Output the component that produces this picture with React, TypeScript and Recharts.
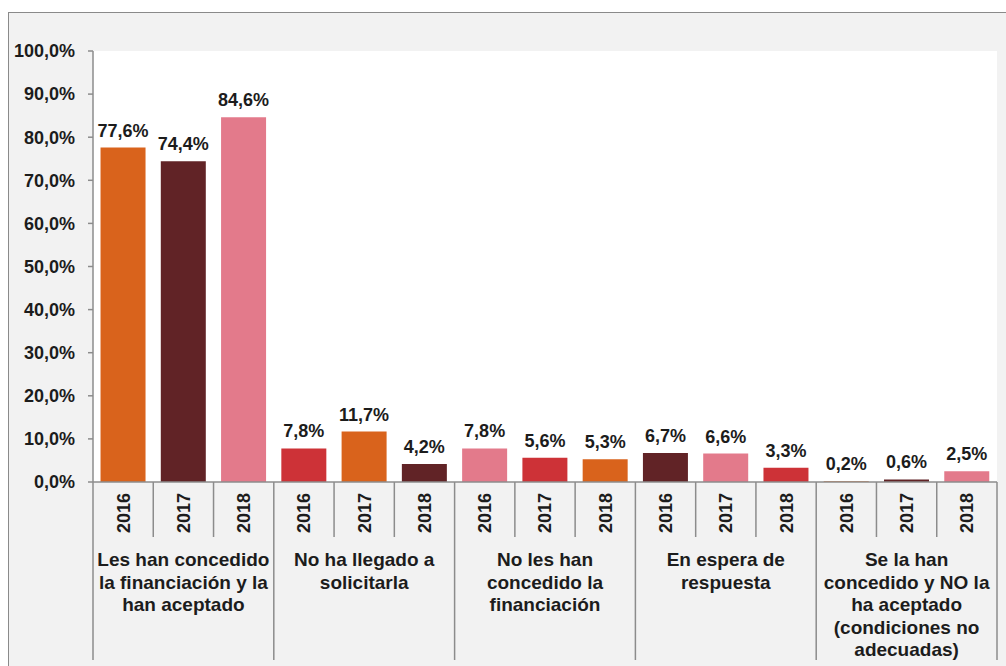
import { BarChart, Bar, XAxis, YAxis, CartesianGrid, Cell, LabelList } from 'recharts'

// one entry per group, lines as they wrap in the original
const CATEGORIES: string[][] = [
  ['Les han concedido', 'la financiación y la', 'han aceptado'],
  ['No ha llegado a', 'solicitarla'],
  ['No les han', 'concedido la', 'financiación'],
  ['En espera de', 'respuesta'],
  ['Se la han', 'concedido y NO la', 'ha aceptado', '(condiciones no', 'adecuadas)']
]

const YEARS = ['2016', '2017', '2018']

const CONCEDIDA_ACEPTADA = [77.6, 74.4, 84.6]
const NO_SOLICITADA = [7.8, 11.7, 4.2]
const NO_CONCEDIDA = [7.8, 5.6, 5.3]
const EN_ESPERA = [6.7, 6.6, 3.3]
const CONCEDIDA_NO_ACEPTADA = [0.2, 0.6, 2.5]

const SERIES = [CONCEDIDA_ACEPTADA, NO_SOLICITADA, NO_CONCEDIDA, EN_ESPERA, CONCEDIDA_NO_ACEPTADA]

const Y_TICKS = [0, 10, 20, 30, 40, 50, 60, 70, 80, 90, 100]

const COLORS = ['#D9631C', '#612326', '#E37A8B', '#CD3237']

const FONT = '"Liberation Sans", Arial, sans-serif'
const TEXT = '#1c1c1c'
const LINE = '#8c8c8c'

const rows = SERIES.flatMap((vals, g) =>
  vals.map((value, j) => ({ key: `${g}-${YEARS[j]}`, year: YEARS[j], group: g, value }))
)

const pct = (v: number) => `${v.toFixed(1).replace('.', ',')}%`

const YearTick = (props: any) => {
  const { x, y, payload, index } = props
  const half = payload && payload.offset ? payload.offset : 30
  const row = rows[index]
  if (!row) return null
  const pos = index % 3
  const items = []
  items.push(
    <line key="l" x1={x - half} x2={x - half} y1={y} y2={pos === 0 ? y + 178 : y + 55} stroke={LINE} strokeWidth={1.5} />
  )
  if (index === rows.length - 1) {
    items.push(<line key="r" x1={x + half} x2={x + half} y1={y} y2={y + 178} stroke={LINE} strokeWidth={1.5} />)
  }
  items.push(
    <text
      key="t"
      x={0}
      y={0}
      transform={`translate(${x},${y + 31}) rotate(-90)`}
      textAnchor="middle"
      dy="0.36em"
      fontFamily={FONT}
      fontWeight="bold"
      fontSize={18}
      fill={TEXT}
    >
      {row.year}
    </text>
  )
  if (pos === 1) {
    items.push(
      <text key="c" x={x} y={y + 84} textAnchor="middle" fontFamily={FONT} fontWeight="bold" fontSize={19} fill={TEXT}>
        {CATEGORIES[row.group].map((ln, k) => (
          <tspan key={k} x={x} dy={k === 0 ? 0 : 22.5}>
            {ln}
          </tspan>
        ))}
      </text>
    )
  }
  return <g>{items}</g>
}

export default function App() {
  return (
    <div style={{ position: 'absolute', left: 0, top: 0, width: 1006, height: 666, background: '#fff', overflow: 'hidden' }}>
      <div
        style={{
          position: 'absolute',
          left: 8,
          top: 12,
          width: 1000,
          height: 660,
          background: '#f2f2f2',
          borderTop: '1.5px solid #8a8a8a',
          borderLeft: '1.5px solid #8a8a8a'
        }}
      />
      <div style={{ position: 'absolute', left: 0, top: 0 }}>
        <BarChart
          width={1006}
          height={666}
          data={rows}
          margin={{ top: 51, right: 9, bottom: 0, left: 0 }}
          barCategoryGap="12.5%"
        >
          <CartesianGrid horizontal={false} vertical={false} fill="#ffffff" />
          <XAxis
            dataKey="key"
            interval={0}
            height={184}
            axisLine={{ stroke: LINE, strokeWidth: 1.5 }}
            tickLine={false}
            tickSize={0}
            tickMargin={0}
            tick={<YearTick />}
          />
          <XAxis
            xAxisId="top"
            dataKey="key"
            orientation="top"
            height={0}
            tick={false}
            tickLine={false}
            axisLine={{ stroke: '#c4c4c4', strokeWidth: 2 }}
          />
          <YAxis
            domain={[0, 100]}
            ticks={Y_TICKS}
            width={93}
            tickFormatter={pct}
            axisLine={{ stroke: LINE, strokeWidth: 1.5 }}
            tickLine={{ stroke: LINE, strokeWidth: 1.5 }}
            tickSize={5}
            tickMargin={13}
            tick={{ fontFamily: FONT, fontWeight: 'bold', fontSize: 18, fill: TEXT }}
          />
          <YAxis
            yAxisId="right"
            orientation="right"
            domain={[0, 100]}
            width={0}
            tick={false}
            tickLine={false}
            axisLine={{ stroke: '#c4c4c4', strokeWidth: 2 }}
          />
          <Bar dataKey="value" isAnimationActive={false}>
            {rows.map((r, i) => (
              <Cell key={r.key} fill={COLORS[i % COLORS.length]} />
            ))}
            <LabelList
              dataKey="value"
              position="top"
              offset={11}
              formatter={(v: any) => pct(Number(v))}
              style={{ fontFamily: FONT, fontWeight: 'bold', fontSize: 18, fill: TEXT }}
            />
          </Bar>
        </BarChart>
      </div>
    </div>
  )
}
